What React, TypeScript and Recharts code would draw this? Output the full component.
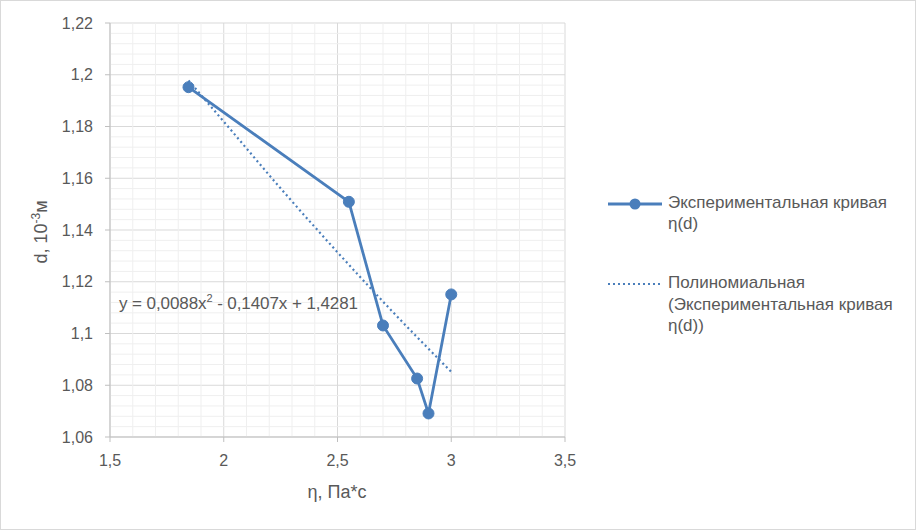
import React from 'react';
import { LineChart, Line, XAxis, YAxis, CartesianGrid, ReferenceLine, Label } from 'recharts';

const FONT = '"Liberation Sans", Arial, sans-serif';
const TEXT = '#595959';
const BLUE = '#4A7EBB';

// experimental points: eta (Pa*s) vs d (10^-3 m)
const etaValues = [1.845, 2.55, 2.7, 2.85, 2.9, 3.0];
const dValues = [1.1952, 1.1509, 1.1031, 1.0826, 1.0691, 1.1151];

// polynomial trendline points
const trendEta = [1.845, 2.0, 2.25, 2.5, 2.75, 3.0];
const trendD = [1.1978, 1.1819, 1.1561, 1.1314, 1.1077, 1.0852];

const xTicks = [1.5, 2, 2.5, 3, 3.5];
const yTicks = [1.06, 1.08, 1.1, 1.12, 1.14, 1.16, 1.18, 1.2, 1.22];
const xMinor = [1.6, 1.7, 1.8, 1.9, 2.1, 2.2, 2.3, 2.4, 2.6, 2.7, 2.8, 2.9, 3.1, 3.2, 3.3, 3.4];
const yMinor = [
  1.064, 1.068, 1.072, 1.076, 1.084, 1.088, 1.092, 1.096, 1.104, 1.108, 1.112, 1.116,
  1.124, 1.128, 1.132, 1.136, 1.144, 1.148, 1.152, 1.156, 1.164, 1.168, 1.172, 1.176,
  1.184, 1.188, 1.192, 1.196, 1.204, 1.208, 1.212, 1.216,
];

const eqParts = ['y = 0,0088x', '2', ' - 0,1407x + 1,4281'];
const seriesName = ['Экспериментальная кривая', 'η(d)'];
const trendName = ['Полиномиальная', '(Экспериментальная кривая', 'η(d))'];

const expData = etaValues.map((x, i) => ({ x, y: dValues[i] }));
const trendData = trendEta.map((x, i) => ({ x, y: trendD[i] }));

const fmt = (v: number) => String(v).replace('.', ',');

export default function App() {
  return (
    <div style={{ position: 'absolute', left: 0, top: 0, width: 916, height: 530, background: '#fff', fontFamily: FONT }}>
      <div style={{ position: 'absolute', left: 0, top: 0, width: 916, height: 530, boxSizing: 'border-box', border: '1.5px solid #d9d9d9' }} />
      <LineChart width={916} height={530} margin={{ top: 23, right: 351, bottom: 63, left: 50 }}>
        {xMinor.map((v) => (
          <ReferenceLine key={'xm' + v} x={v} stroke="#efefef" strokeWidth={1} />
        ))}
        {yMinor.map((v) => (
          <ReferenceLine key={'ym' + v} y={v} stroke="#efefef" strokeWidth={1} />
        ))}
        <CartesianGrid stroke="#d9d9d9" strokeWidth={1} />
        <XAxis
          type="number"
          dataKey="x"
          domain={[1.5, 3.5]}
          ticks={xTicks}
          tickFormatter={fmt}
          allowDataOverflow
          height={30}
          stroke="#bfbfbf"
          tickSize={5}
          tickMargin={13}
          tick={{ fill: TEXT, fontSize: 16, fontFamily: FONT }}
        >
          <Label
            content={() => (
              <text x={337} y={498} textAnchor="middle" fill={TEXT} fontSize={18} fontFamily={FONT}>
                η, Па*с
              </text>
            )}
          />
        </XAxis>
        <YAxis
          type="number"
          dataKey="y"
          domain={[1.06, 1.22]}
          ticks={yTicks}
          tickFormatter={fmt}
          allowDataOverflow
          width={60}
          stroke="#bfbfbf"
          tickSize={5}
          tickMargin={12}
          tick={{ fill: TEXT, fontSize: 16, fontFamily: FONT }}
        >
          <Label
            content={() => (
              <text x={47} y={232} transform="rotate(-90 47 232)" textAnchor="middle" fill={TEXT} fontSize={18} fontFamily={FONT}>
                d, 10<tspan fontSize={12} dy={-7}>-3</tspan><tspan dy={7}>м</tspan>
              </text>
            )}
          />
        </YAxis>
        <Line
          data={trendData}
          dataKey="y"
          type="monotone"
          stroke={BLUE}
          strokeWidth={2.2}
          strokeDasharray="2 3"
          dot={false}
          isAnimationActive={false}
        />
        <Line
          data={expData}
          dataKey="y"
          type="linear"
          stroke={BLUE}
          strokeWidth={2.8}
          dot={{ r: 5.5, fill: BLUE, stroke: BLUE, strokeWidth: 1 }}
          isAnimationActive={false}
        />
      </LineChart>
      <svg style={{ position: 'absolute', left: 0, top: 0 }} width={916} height={530} pointerEvents="none">
        <text x={119} y={309} fill={TEXT} fontSize={17} fontFamily={FONT} textLength={239} lengthAdjust="spacing">
          {eqParts[0]}
          <tspan fontSize={11} dy={-7}>{eqParts[1]}</tspan>
          <tspan dy={7}>{eqParts[2]}</tspan>
        </text>
        <line x1={608} y1={204} x2={662} y2={204} stroke={BLUE} strokeWidth={2.8} />
        <circle cx={635} cy={204} r={5.5} fill={BLUE} />
        <line x1={608} y1={284} x2={662} y2={284} stroke={BLUE} strokeWidth={2.2} strokeDasharray="2 3" />
      </svg>
      <div style={{ position: 'absolute', left: 668, top: 192, fontSize: 17, color: TEXT, lineHeight: '21px' }}>
        {seriesName.map((t) => (
          <div key={t}>{t}</div>
        ))}
      </div>
      <div style={{ position: 'absolute', left: 668, top: 272, fontSize: 17, color: TEXT, lineHeight: '21.5px' }}>
        {trendName.map((t) => (
          <div key={t}>{t}</div>
        ))}
      </div>
    </div>
  );
}
